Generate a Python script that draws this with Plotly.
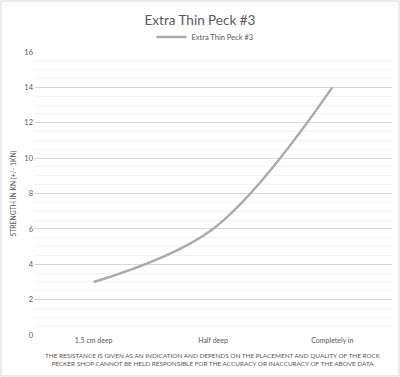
import plotly.graph_objects as go

categories = ["1.5 cm deep", "Half deep", "Completely in"]
values = [3, 6, 14]
series_name = "Extra Thin Peck #3"
title_text = "Extra Thin Peck #3"
y_title = "STRENGTH IN KN (+/- 1KN)"
note_lines = ["THE RESISTANCE IS GIVEN AS AN INDICATION AND DEPENDS ON THE PLACEMENT AND QUALITY OF THE ROCK",
              "PECKER SHOP CANNOT BE HELD RESPONSIBLE FOR THE ACCURACY OR INACCURACY OF THE ABOVE DATA"]

W, H = 400, 377
L, R, T, B = 34, 8, 52, 42
font = "Lato, sans-serif"

fig = go.Figure()
fig.add_trace(go.Scatter(
    x=categories, y=values, name=series_name, mode="lines",
    line=dict(color="#ABABAB", width=2.5, shape="spline", smoothing=1.0),
))

pw = W - L - R
ph = H - T - B
fig.update_layout(
    width=W, height=H,
    margin=dict(l=L, r=R, t=T, b=B, autoexpand=False),
    paper_bgcolor="white", plot_bgcolor="white",
    font=dict(family=font, color="#595959"),
    title=dict(text=title_text, x=0.5, xanchor="center", y=1 - 20 / H, yanchor="middle",
               font=dict(size=13.5, color="#595959")),
    showlegend=True,
    legend=dict(orientation="h", x=0.5 - 8 / pw, xanchor="center", y=1 + 15 / ph, yanchor="middle",
                font=dict(size=7.5, color="#595959"), itemwidth=30),
    xaxis=dict(type="category", range=[-0.5, 2.5], showgrid=False, zeroline=False,
               showline=False, ticks="", tickfont=dict(size=7, color="#595959"), automargin=False),
    yaxis=dict(range=[0, 16], dtick=2, showgrid=True, gridcolor="#D9D9D9", gridwidth=1,
               zeroline=False, showline=False, ticks="", automargin=False,
               tickfont=dict(size=7.5, color="#595959"),
               title=dict(text=y_title, font=dict(size=6.8, color="#595959"), standoff=6),
               minor=dict(dtick=0.5, showgrid=True, gridcolor="#F2F2F2", gridwidth=1)),
)
fig.add_annotation(text="<br>".join(note_lines), xref="paper", yref="paper",
                   x=0.5, y=-(350 - 335) / ph, xanchor="center", yanchor="top",
                   showarrow=False, font=dict(size=6.4, color="#595959"), align="center")
# chart border
fig.add_shape(type="rect", xref="paper", yref="paper",
              x0=-(L - 1) / pw, x1=1 + (R - 1) / pw, y0=-(B - 1) / ph, y1=1 + (T - 1) / ph,
              line=dict(color="#D9D9D9", width=1), layer="below")
fig.write_html("out.html", config={"displayModeBar": False},
               post_script="document.body.style.margin='0';")
